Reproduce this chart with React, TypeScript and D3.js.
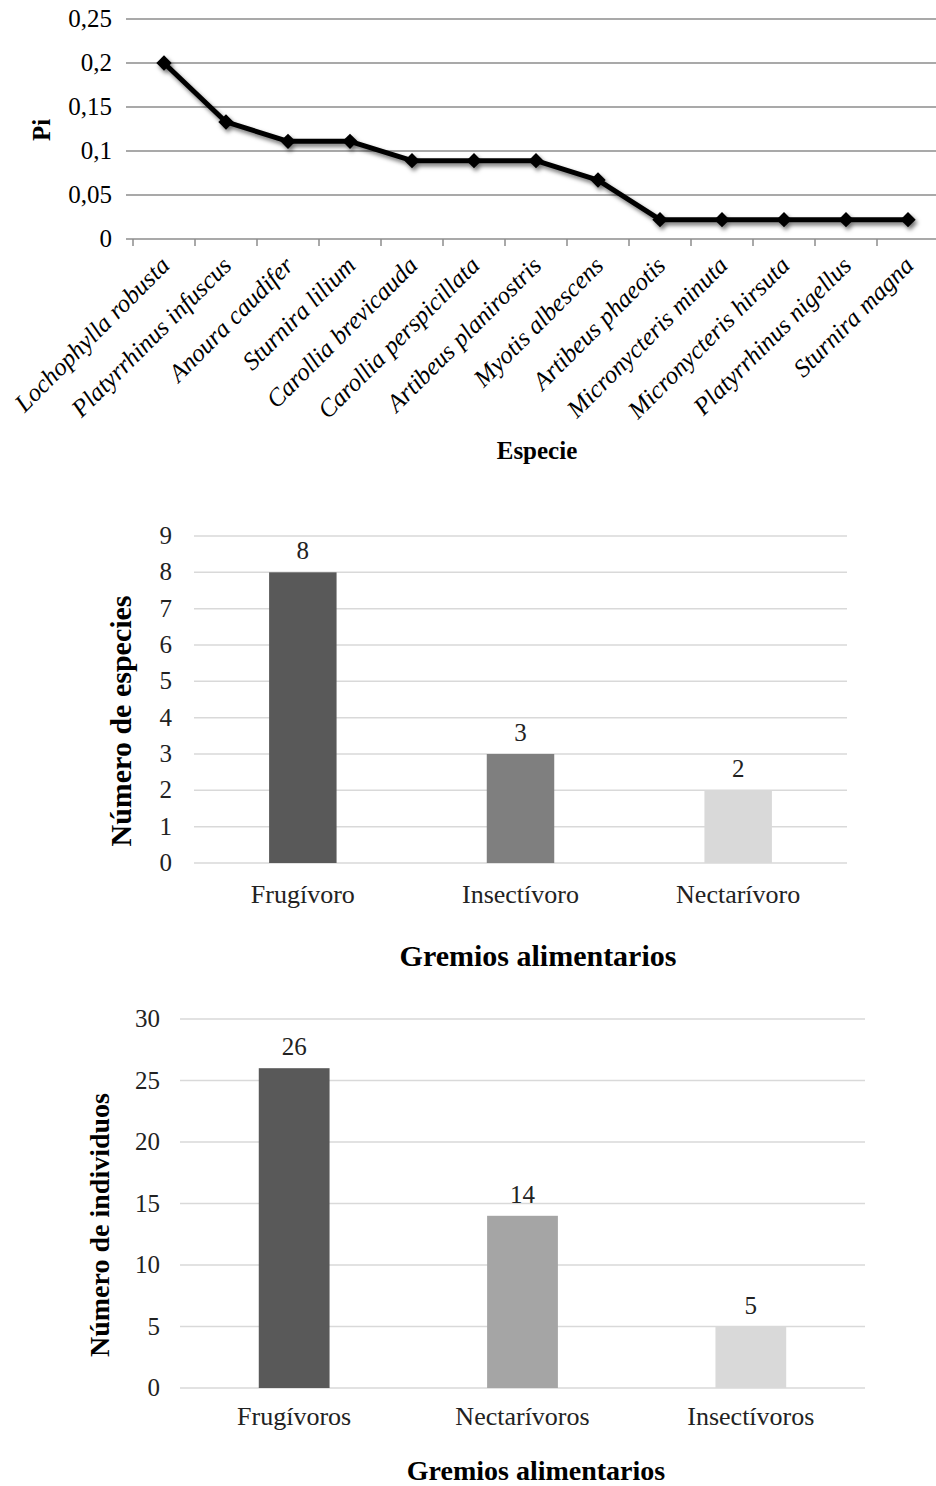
import * as d3 from "d3";

// Pi by species (top line chart)
const species = [
  "Lochophylla robusta",
  "Platyrrhinus infuscus",
  "Anoura caudifer",
  "Sturnira lilium",
  "Carollia brevicauda",
  "Carollia perspicillata",
  "Artibeus planirostris",
  "Myotis albescens",
  "Artibeus phaeotis",
  "Micronycteris minuta",
  "Micronycteris hirsuta",
  "Platyrrhinus nigellus",
  "Sturnira magna",
];
const piValues = [0.2, 0.133, 0.111, 0.111, 0.089, 0.089, 0.089, 0.067, 0.022, 0.022, 0.022, 0.022, 0.022];
const piTicks = [0, 0.05, 0.1, 0.15, 0.2, 0.25];
const piTickLabels = ["0", "0,05", "0,1", "0,15", "0,2", "0,25"];

// species per feeding guild
const guildsA = ["Frugívoro", "Insectívoro", "Nectarívoro"];
const speciesCount = [8, 3, 2];
const colorsA = ["#595959", "#7f7f7f", "#d9d9d9"];
const ticksA = [0, 1, 2, 3, 4, 5, 6, 7, 8, 9];

// individuals per feeding guild
const guildsB = ["Frugívoros", "Nectarívoros", "Insectívoros"];
const individualCount = [26, 14, 5];
const colorsB = ["#595959", "#a5a5a5", "#d9d9d9"];
const ticksB = [0, 5, 10, 15, 20, 25, 30];

const serif = "'Liberation Serif', 'Times New Roman', serif";

function LineChart() {
  const x = d3.scaleBand().domain(species).range([133, 939]).padding(0);
  const y = d3.scaleLinear().domain([0, 0.25]).range([239, 19]);
  const pts = species.map((s, i) => [x(s)! + x.bandwidth() / 2, y(piValues[i])] as [number, number]);
  const line = d3.line()(pts)!;
  const diamond = d3.symbol().type(d3.symbolDiamond2).size(150)()!;
  const bounds = species.map((s) => x(s)!).concat([x.range()[1]]);

  return (
    <g>
      <defs>
        <filter id="shadow" x="-20%" y="-20%" width="140%" height="140%">
          <feDropShadow dx="2" dy="3" stdDeviation="2.2" floodColor="#000" floodOpacity="0.55" />
        </filter>
      </defs>
      {piTicks.map((t, i) => (
        <g key={t}>
          <line x1={126} x2={939} y1={y(t)} y2={y(t)} stroke="#8c8c8c" strokeWidth={1.5} />
          <text x={112} y={y(t) + 8} textAnchor="end" fontSize={25}>
            {piTickLabels[i]}
          </text>
        </g>
      ))}
      {bounds.map((b, i) => (
        <line key={i} x1={b} x2={b} y1={239} y2={246} stroke="#8c8c8c" strokeWidth={1.5} />
      ))}
      <g filter="url(#shadow)">
        <path d={line} fill="none" stroke="#000" strokeWidth={5} strokeLinejoin="round" />
        {pts.map((p, i) => (
          <path key={i} d={diamond} transform={`translate(${p[0]},${p[1]})`} fill="#000" />
        ))}
      </g>
      {species.map((s) => (
        <text
          key={s}
          transform={`translate(${x(s)! + x.bandwidth() / 2 + 7},${267}) rotate(-45)`}
          textAnchor="end"
          fontSize={25}
          fontStyle="italic"
        >
          {s}
        </text>
      ))}
      <text x={537} y={459} textAnchor="middle" fontSize={25} fontWeight="bold">
        Especie
      </text>
      <text transform="translate(50,130) rotate(-90)" textAnchor="middle" fontSize={25} fontWeight="bold">
        Pi
      </text>
    </g>
  );
}

type BarProps = {
  cats: string[];
  values: number[];
  colors: string[];
  ticks: number[];
  xRange: [number, number];
  yRange: [number, number];
  tickX: number;
  catY: number;
  title: string;
  titleX: number;
  titleY: number;
  yTitle: string;
  yTitleX: number;
  yTitleY: number;
  titleSize: number;
};

function BarChart(p: BarProps) {
  const x = d3.scaleBand().domain(p.cats).range(p.xRange).padding(0);
  const y = d3.scaleLinear().domain([0, p.ticks[p.ticks.length - 1]]).range(p.yRange);
  const bw = x.bandwidth() * 0.31;
  return (
    <g>
      {p.ticks.map((t) => (
        <g key={t}>
          <line x1={p.xRange[0]} x2={p.xRange[1]} y1={y(t)} y2={y(t)} stroke="#d9d9d9" strokeWidth={1.5} />
          <text x={p.tickX} y={y(t) + 8} textAnchor="end" fontSize={25} fill="#222">
            {t}
          </text>
        </g>
      ))}
      {p.cats.map((c, i) => {
        const cx = x(c)! + x.bandwidth() / 2;
        return (
          <g key={c}>
            <rect x={cx - bw / 2} y={y(p.values[i])} width={bw} height={y(0) - y(p.values[i])} fill={p.colors[i]} />
            <text x={cx} y={y(p.values[i]) - 13} textAnchor="middle" fontSize={25} fill="#222">
              {p.values[i]}
            </text>
            <text x={cx} y={p.catY} textAnchor="middle" fontSize={26} fill="#222">
              {c}
            </text>
          </g>
        );
      })}
      <text x={p.titleX} y={p.titleY} textAnchor="middle" fontSize={p.titleSize} fontWeight="bold">
        {p.title}
      </text>
      <text
        transform={`translate(${p.yTitleX},${p.yTitleY}) rotate(-90)`}
        textAnchor="middle"
        fontSize={p.titleSize}
        fontWeight="bold"
      >
        {p.yTitle}
      </text>
    </g>
  );
}

export default function App() {
  return (
    <svg
      width={936}
      height={1486}
      viewBox="0 0 936 1486"
      style={{ position: "absolute", left: 0, top: 0, background: "#fff" }}
      fontFamily={serif}
    >
      <LineChart />
      <BarChart
        cats={guildsA}
        values={speciesCount}
        colors={colorsA}
        ticks={ticksA}
        xRange={[194, 847]}
        yRange={[863, 536]}
        tickX={172}
        catY={903}
        title="Gremios alimentarios"
        titleX={538}
        titleY={966}
        yTitle="Número de especies"
        yTitleX={131}
        yTitleY={721}
        titleSize={30}
      />
      <BarChart
        cats={guildsB}
        values={individualCount}
        colors={colorsB}
        ticks={ticksB}
        xRange={[180, 865]}
        yRange={[1388, 1019]}
        tickX={160}
        catY={1425}
        title="Gremios alimentarios"
        titleX={536}
        titleY={1480}
        yTitle="Número de individuos"
        yTitleX={109}
        yTitleY={1225}
        titleSize={28}
      />
    </svg>
  );
}
